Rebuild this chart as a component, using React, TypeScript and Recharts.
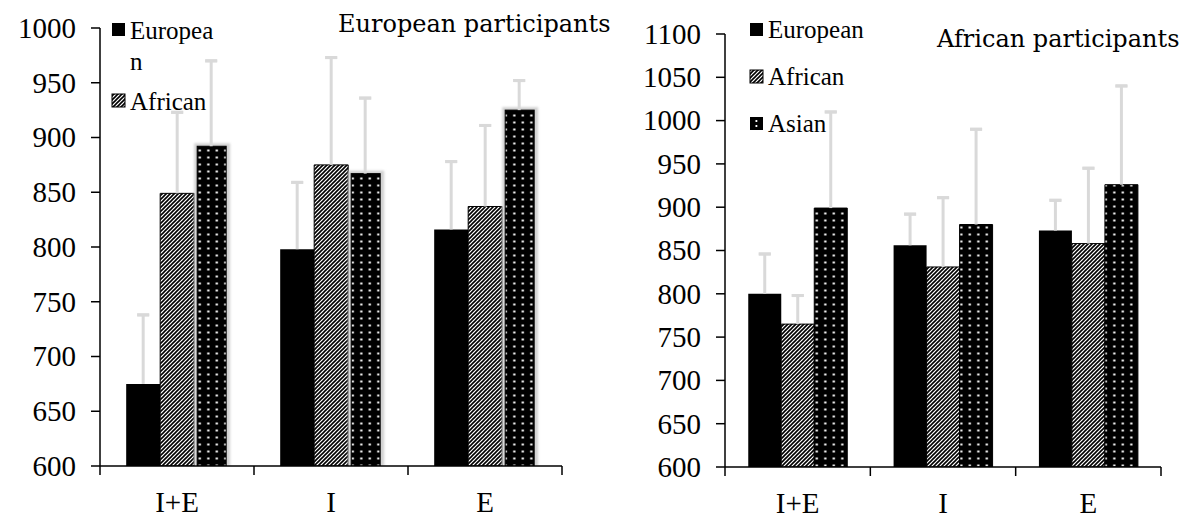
import React from 'react';
import { BarChart, Bar, XAxis, YAxis, ErrorBar } from 'recharts';

const categories = ['I+E', 'I', 'E'];
const seriesNames = ['European', 'African', 'Asian'];

// Panel 1: European participants
const euroTitle = 'European participants';
const euroEuropean = [675, 798, 816];
const euroAfrican = [849, 875, 837];
const euroAsian = [892, 867, 925];
const euroEuropeanErr = [63, 61, 62];
const euroAfricanErr = [74, 98, 74];
const euroAsianErr = [78, 69, 27];
const euroTicks = [600, 650, 700, 750, 800, 850, 900, 950, 1000];

// Panel 2: African participants
const afrTitle = 'African participants';
const afrEuropean = [800, 856, 873];
const afrAfrican = [765, 831, 858];
const afrAsian = [899, 880, 926];
const afrEuropeanErr = [46, 36, 35];
const afrAfricanErr = [33, 80, 87];
const afrAsianErr = [111, 110, 114];
const afrTicks = [600, 650, 700, 750, 800, 850, 900, 950, 1000, 1050, 1100];

const buildData = (eu: number[], af: number[], as: number[], euE: number[], afE: number[], asE: number[]) =>
  categories.map((c, i) => ({
    cat: c,
    European: eu[i],
    African: af[i],
    Asian: as[i],
    euErr: euE[i],
    afErr: afE[i],
    asErr: asE[i],
  }));

const euroData = buildData(euroEuropean, euroAfrican, euroAsian, euroEuropeanErr, euroAfricanErr, euroAsianErr);
const afrData = buildData(afrEuropean, afrAfrican, afrAsian, afrEuropeanErr, afrAfricanErr, afrAsianErr);

const SERIF = "'Liberation Serif', 'Times New Roman', Times, serif";
const serifStyle = { fontFamily: SERIF };
const ERR = '#d9d9d9';

const makeXTick = (bw: number, n: number) => (props: any) => {
  const { x, y, payload, index } = props;
  const lines = [x - bw / 2];
  if (index === n - 1) lines.push(x + bw / 2);
  return (
    <g>
      {lines.map((lx, i) => (
        <line key={i} x1={lx} x2={lx} y1={y} y2={y + 9} stroke="#000" strokeWidth={1.5} />
      ))}
      <text x={x} y={y + 46} textAnchor="middle" fontSize={29} style={serifStyle} fill="#000">
        {payload.value}
      </text>
    </g>
  );
};

const YTick = (props: any) => {
  const { x, y, payload } = props;
  return (
    <text x={x} y={y} dy="0.34em" textAnchor="end" fontSize={29} style={serifStyle} fill="#000">
      {payload.value}
    </text>
  );
};

const GlowBar = (props: any) => {
  const { x, y, width, height } = props;
  if (!height || height <= 0) return null;
  return (
    <g>
      <rect x={x} y={y - 3} width={width + 2} height={height + 3} fill="#d2d2d2" filter="url(#soft)" />
      <rect x={x + 3} y={y} width={width - 5} height={height} fill="url(#dots)" stroke="#000" strokeWidth={1} />
    </g>
  );
};

const errStem = (key: string) => (d: any) => [0, d[key]];
const errCap = (key: string) => (d: any) => [-d[key], d[key]];

type PanelProps = {
  data: any[];
  ticks: number[];
  width: number;
  height: number;
  yAxisWidth: number;
  top: number;
  right: number;
  xAxisHeight: number;
  gap: string;
  glow: boolean;
};

const Panel = ({ data, ticks, width, height, yAxisWidth, top, right, xAxisHeight, gap, glow }: PanelProps) => {
  const plotW = width - yAxisWidth - right;
  const bw = plotW / categories.length;
  const errProps = { stroke: ERR, strokeWidth: 3 } as any;
  return (
    <BarChart
      width={width}
      height={height}
      data={data}
      margin={{ top, right, bottom: 0, left: 0 }}
      barCategoryGap={gap}
      barGap={0}
    >
      <XAxis
        dataKey="cat"
        height={xAxisHeight}
        axisLine={{ stroke: '#000', strokeWidth: 1.5 }}
        tickLine={false}
        tickSize={0}
        tickMargin={0}
        interval={0}
        tick={makeXTick(bw, categories.length)}
      />
      <YAxis
        width={yAxisWidth}
        domain={[ticks[0], ticks[ticks.length - 1]]}
        ticks={ticks}
        interval={0}
        allowDataOverflow
        axisLine={{ stroke: '#000', strokeWidth: 1.5 }}
        tickLine={{ stroke: '#000', strokeWidth: 1.5 }}
        tickSize={9}
        tickMargin={15}
        tick={YTick}
      />
      <Bar dataKey="European" fill="#000" isAnimationActive={false}>
        <ErrorBar dataKey={errStem('euErr')} width={0} {...errProps} />
        <ErrorBar dataKey={errCap('euErr')} width={6} {...errProps} />
      </Bar>
      <Bar dataKey="African" fill="url(#hatch)" stroke="#000" strokeWidth={1} isAnimationActive={false}>
        <ErrorBar dataKey={errStem('afErr')} width={0} {...errProps} />
        <ErrorBar dataKey={errCap('afErr')} width={6} {...errProps} />
      </Bar>
      <Bar
        dataKey="Asian"
        fill="url(#dots)"
        stroke="#000"
        strokeWidth={1}
        isAnimationActive={false}
        shape={glow ? GlowBar : undefined}
      >
        <ErrorBar dataKey={errStem('asErr')} width={0} {...errProps} />
        <ErrorBar dataKey={errCap('asErr')} width={6} {...errProps} />
      </Bar>
    </BarChart>
  );
};

const markerFill = ['#000', 'url(#hatch)', 'url(#dotmark)'];

const wrapChunks = (s: string, n: number) => {
  const out: string[] = [];
  for (let i = 0; i < s.length; i += n) out.push(s.slice(i, i + n));
  return out;
};

const App = () => {
  const leftLegendItems = seriesNames.slice(0, 2);
  const leftBaselines = [[39, 70], [110]];
  const rightBaselines = [38, 85, 132];
  return (
    <div style={{ position: 'absolute', left: 0, top: 0, width: 1199, height: 520, background: '#fff' }}>
      <svg width={0} height={0} style={{ position: 'absolute' }}>
        <defs>
          <pattern id="hatch" patternUnits="userSpaceOnUse" width="4" height="4">
            <rect width="4" height="4" fill="#fff" />
            <path d="M-1,1 l2,-2 M0,4 l4,-4 M3,5 l2,-2" stroke="#000" strokeWidth="1.6" />
          </pattern>
          <pattern id="dots" patternUnits="userSpaceOnUse" width="8.5" height="7">
            <rect width="8.5" height="7" fill="#000" />
            <rect x="3.2" y="2.5" width="2.2" height="2" fill="#fff" />
          </pattern>
          <pattern id="dotmark" patternUnits="objectBoundingBox" width="1" height="1">
            <rect width="13" height="13" fill="#000" />
            <rect x="5.5" y="3" width="1.8" height="2" fill="#fff" />
            <rect x="5.5" y="8" width="1.8" height="2" fill="#fff" />
          </pattern>
          <filter id="soft" x="-20%" y="-20%" width="140%" height="140%">
            <feGaussianBlur stdDeviation="1" />
          </filter>
        </defs>
      </svg>
      <div style={{ position: 'absolute', left: 0, top: 0 }}>
        <Panel
          data={euroData}
          ticks={euroTicks}
          width={600}
          height={520}
          yAxisWidth={100}
          top={28}
          right={38}
          xAxisHeight={54}
          gap="17%"
          glow={true}
        />
      </div>
      <div style={{ position: 'absolute', left: 600, top: 0 }}>
        <Panel
          data={afrData}
          ticks={afrTicks}
          width={599}
          height={520}
          yAxisWidth={125}
          top={34}
          right={38}
          xAxisHeight={53}
          gap="16%"
          glow={false}
        />
      </div>
      <svg width={1199} height={520} style={{ position: 'absolute', left: 0, top: 0, pointerEvents: 'none' }}>
        <text x={338} y={32} style={{ fontFamily: "'DejaVu Serif', serif" }} fontSize={24} fill="#000">{euroTitle}</text>
        <text x={937} y={47} style={{ fontFamily: "'DejaVu Serif', serif" }} fontSize={24} fill="#000">{afrTitle}</text>
        {leftLegendItems.map((name, i) => {
          const lines = wrapChunks(name, 7);
          const b = leftBaselines[i];
          return (
            <g key={name}>
              <rect x={112} y={b[0] - 16} width={13} height={13} fill={markerFill[i]} stroke={i === 1 ? '#000' : 'none'} strokeWidth={1} />
              {lines.map((ln, j) => (
                <text key={j} x={130} y={b[j] ?? b[0] + 31 * j} style={serifStyle} fontSize={25} fill="#000">{ln}</text>
              ))}
            </g>
          );
        })}
        {seriesNames.map((name, i) => (
          <g key={name}>
            <rect x={750} y={rightBaselines[i] - 15} width={13} height={13} fill={markerFill[i]} stroke={i === 1 ? '#000' : 'none'} strokeWidth={1} />
            <text x={768} y={rightBaselines[i]} style={serifStyle} fontSize={25} fill="#000">{name}</text>
          </g>
        ))}
      </svg>
    </div>
  );
};

export default App;
